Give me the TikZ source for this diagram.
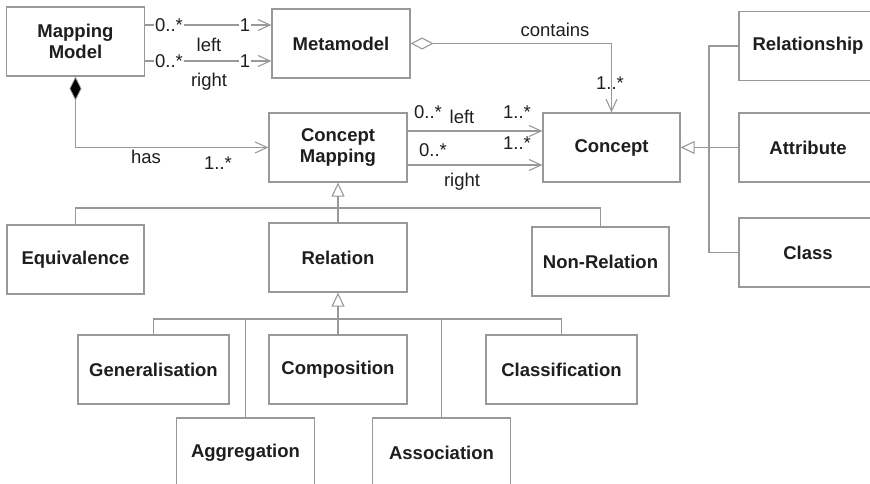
\documentclass[tikz,border=0pt]{standalone}
\usepackage{fontspec}
\setmainfont{Liberation Sans}
\usetikzlibrary{arrows.meta,calc}
\definecolor{linegray}{HTML}{999999}
\definecolor{ink}{HTML}{1E1E1E}
\begin{document}
\begin{tikzpicture}[x=1pt,y=-1pt,
  umlbox/.style={draw=linegray, line width=1.2pt, fill=white, minimum width=138pt,
    minimum height=69pt, inner sep=0pt, align=center, text=ink,
    font=\fontsize{18.5}{21}\selectfont\bfseries},
  wire/.style={draw=linegray, line width=1.2pt},
  assoc/.style={wire, -{Straight Barb[length=12pt,width=11pt,line width=1.1pt]}},
  genarrow/.style={wire, -{Triangle[open,length=14pt,width=13pt,line width=1.1pt]}},
  compo/.style={wire, {Diamond[length=24pt,width=12pt,fill=black,line width=0.8pt]}-{Straight Barb[length=12pt,width=11pt,line width=1.1pt]}},
  aggreg/.style={wire, {Diamond[open,length=23pt,width=12pt,line width=1.1pt]}-{Straight Barb[length=12pt,width=11pt,line width=1.1pt]}},
  lbl/.style={inner sep=1pt, text=ink, font=\fontsize{18.5}{21}\selectfont},
  gap/.style={lbl, fill=white}]
\useasboundingbox (0,0) rectangle (870,484);

% classes
\node[umlbox] (mm) at (75.5,41.5) {Mapping\\Model};
\node[umlbox] (meta) at (341,43.5) {Metamodel};
\node[umlbox] (cm) at (338,147.5) {Concept\\Mapping};
\node[umlbox, minimum width=137pt] (concept) at (611.5,147.5) {Concept};
\node[umlbox] (relship) at (808,46) {Relationship};
\node[umlbox] (attr) at (808,147.5) {Attribute};
\node[umlbox] (cls) at (808,252.5) {Class};
\node[umlbox, minimum width=137pt] (equiv) at (75.5,259.5) {Equivalence};
\node[umlbox] (rel) at (338,257.5) {Relation};
\node[umlbox, minimum width=137pt] (nonrel) at (600.5,261.5) {Non-Relation};
\node[umlbox, minimum width=151pt] (gen) at (153.5,369.5) {Generalisation};
\node[umlbox] (comp) at (338,369.5) {Composition};
\node[umlbox, minimum width=151pt] (classif) at (561.5,369.5) {Classification};
\node[umlbox] (aggr) at (245.5,452.5) {Aggregation};
\node[umlbox] (assocn) at (441.5,452.5) {Association};

% Mapping Model -> Metamodel (left / right)
\draw[assoc] ($(mm.east)+(0,-16.5)$) -- ($(meta.west)+(0,-18.5)$);
\draw[assoc] ($(mm.east)+(0,19.5)$) -- ($(meta.west)+(0,17.5)$);
\node[gap] (l1a) at (169,25) {0..*};
\node[gap] (l1b) at (245,25) {1};
\node[gap] (l2a) at (169,61) {0..*};
\node[gap] (l2b) at (245,61) {1};
\node[lbl] (lleft) at (209,45) {left};
\node[lbl] (lright) at (209,82) {right};

% Mapping Model has Concept Mapping
\draw[compo] (mm.south) |- (cm.west);
\node[gap] (lhas) at (146,157) {has};
\node[lbl] (lhasm) at (218,163) {1..*};

% Metamodel contains Concept
\draw[aggreg] (meta.east) -| (concept.north);
\node[lbl] (lcont) at (555,30) {contains};
\node[lbl] (lcontm) at (610,83) {1..*};

% Concept Mapping -> Concept (left / right)
\draw[assoc] ($(cm.east)+(0,-16.5)$) -- ($(concept.west)+(0,-16.5)$);
\draw[assoc] ($(cm.east)+(0,17.5)$) -- ($(concept.west)+(0,17.5)$);
\node[lbl] (c1a) at (428,112) {0..*};
\node[lbl] (cleft) at (462,117) {left};
\node[lbl] (c1b) at (517,112) {1..*};
\node[lbl] (c2a) at (433,150) {0..*};
\node[lbl] (c2b) at (517,143) {1..*};
\node[lbl] (cright) at (462,182) {right};

% specialisations of Concept
\coordinate (busC) at (709,147.5);
\draw[wire] (relship.west) -| (busC) |- (cls.west);
\draw[genarrow] (attr.west) -- (concept.east);

% specialisations of Concept Mapping
\coordinate (busA) at (338,208);
\draw[wire] (equiv.north) |- (busA) -| (nonrel.north);
\draw[genarrow] (rel.north) -- (cm.south);

% specialisations of Relation
\coordinate (busB) at (338,319);
\draw[wire] (gen.north) |- (busB) -| (classif.north);
\draw[wire] (aggr.north) -- (aggr.north |- busB);
\draw[wire] (assocn.north) -- (assocn.north |- busB);
\draw[genarrow] (comp.north) -- (rel.south);
\end{tikzpicture}
\end{document}
